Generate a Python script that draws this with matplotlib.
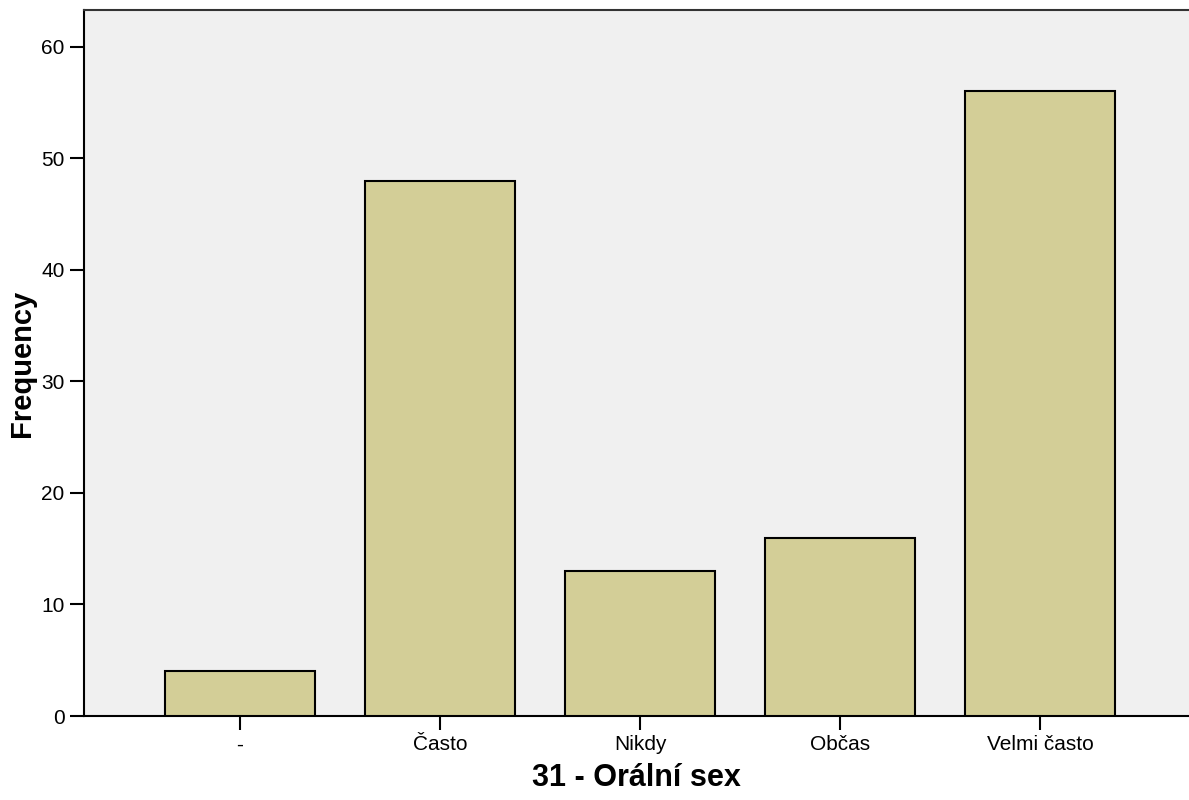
import matplotlib
matplotlib.use("Agg")
import matplotlib.pyplot as plt

categories = ["-", "Často", "Nikdy", "Občas", "Velmi často"]
frequency = [4, 48, 13, 16, 56]
yticks = [0, 10, 20, 30, 40, 50, 60]

plt.rcParams["font.family"] = ["Liberation Sans", "DejaVu Sans"]

fig = plt.figure(figsize=(11.89, 8), dpi=100)
ax = fig.add_axes([84 / 1189, 1 - 716 / 800, 1 - 84 / 1189, (716 - 10) / 800])
ax.set_facecolor("#f0f0f0")

x = list(range(len(categories)))
ax.bar(x, frequency, width=0.75, color="#d3ce97", edgecolor="black", linewidth=1.5, zorder=3)

ax.set_xlim(-0.78, 4.745)
ax.set_ylim(0, 63.3)
ax.set_xticks(x)
ax.set_xticklabels(categories)
ax.set_yticks(yticks)

ax.tick_params(axis="both", length=10, width=1.5, labelsize=15, pad=4, colors="black")
ax.spines["right"].set_visible(False)
ax.spines["top"].set_color("#333333")
for s in ["left", "bottom", "top"]:
    ax.spines[s].set_linewidth(1.5)

ax.set_xlabel("31 - Orální sex", fontsize=22, fontweight="bold", labelpad=6)
ax.set_ylabel("Frequency", fontsize=21, fontweight="bold", labelpad=4)

fig.savefig("out.png", dpi=100)
